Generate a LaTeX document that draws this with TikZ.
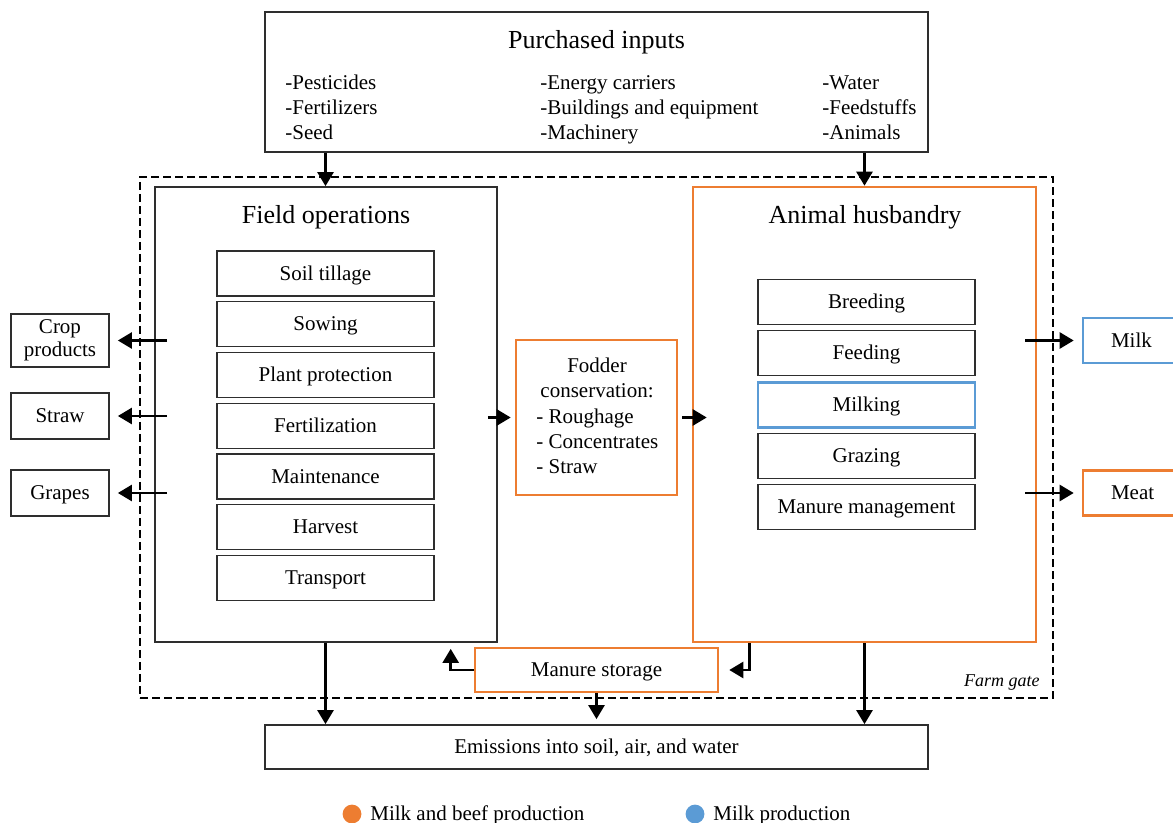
\documentclass[tikz,border=0pt]{standalone}
\usepackage{fontspec}
\setmainfont{Liberation Serif}
\usetikzlibrary{arrows.meta}
\definecolor{org}{HTML}{ED7D31}
\definecolor{blu}{HTML}{5B9BD5}
\definecolor{edge}{HTML}{2E2E2E}
\begin{document}
\begin{tikzpicture}[x=0.5pt,y=-0.5pt,
 bx/.style={draw=edge, line width=0.85pt, inner sep=0pt, font=\fontsize{10.5}{12.5}\selectfont},
 ob/.style={bx, draw=org, line width=1.3pt},
 bb/.style={bx, draw=blu, line width=1.3pt},
 ctr/.style={text height=8.2pt, text depth=1.4pt},
 sub/.style={bx, ctr, minimum width=108.5pt, minimum height=22.5pt},
 arr/.style={line width=1.25pt, -{Triangle[length=7pt,width=8pt]}},
 txt/.style={inner sep=0pt, font=\fontsize{10.5}{12.5}\selectfont, align=left},
 ttl/.style={inner sep=0pt, font=\fontsize{13}{15}\selectfont, text height=10pt, text depth=1pt}]
\useasboundingbox (0,0) rectangle (1173,823);
% purchased inputs
\node[bx, minimum width=331.5pt, minimum height=70pt] (pi) at (596.5,82) {};
\node[ttl] (pit) at (596.5,40) {Purchased inputs};
\node[txt, anchor=base west] (pc1) at (285,90) {\begin{tabular}[t]{@{}l@{}}-Pesticides\\-Fertilizers\\-Seed\end{tabular}};
\node[txt, anchor=base west] (pc2) at (540,90) {\begin{tabular}[t]{@{}l@{}}-Energy carriers\\-Buildings and equipment\\-Machinery\end{tabular}};
\node[txt, anchor=base west] (pc3) at (822,90) {\begin{tabular}[t]{@{}l@{}}-Water\\-Feedstuffs\\-Animals\end{tabular}};
% farm gate
\node[draw=black, line width=1.2pt, dash pattern=on 4pt off 2pt, minimum width=456.5pt, minimum height=260.5pt, inner sep=0pt] (fg) at (596.5,437.5) {};
\node[inner sep=0pt, anchor=east, font=\fontsize{9}{11}\selectfont\itshape] (fgt) at (1040,683) {Farm gate};
% field operations
\node[bx, minimum width=171pt, minimum height=227.5pt] (fo) at (326,414.5) {};
\node[ttl] (fot) at (326,215) {Field operations};
\node[sub] (st) at (325.5,273.5) {Soil tillage};
\node[sub] (sw) at (325.5,324) {Sowing};
\node[sub] (pp) at (325.5,375) {Plant protection};
\node[sub] (fe) at (325.5,426) {Fertilization};
\node[sub] (mt) at (325.5,476.5) {Maintenance};
\node[sub] (hv) at (325.5,527) {Harvest};
\node[sub] (tr) at (325.5,578) {Transport};
% animal husbandry
\node[ob, minimum width=171.5pt, minimum height=227.5pt] (ah) at (864.5,414.5) {};
\node[ttl] (aht) at (865,215) {Animal husbandry};
\node[sub] (br) at (866.5,302) {Breeding};
\node[sub] (fd) at (866.5,353) {Feeding};
\node[sub, bb] (mk) at (866.5,405) {Milking};
\node[sub] (gz) at (866.5,456) {Grazing};
\node[sub] (mm) at (866.5,507) {Manure management};
% fodder
\node[ob, minimum width=80.5pt, minimum height=77.5pt] (fod) at (596.5,417.5) {};
\node[txt, align=center] (fodt) at (597,378) {Fodder\\conservation:};
\node[txt, anchor=west] (fodl) at (536,441) {- Roughage\\- Concentrates\\- Straw};
% manure storage, emissions
\node[ob, ctr, minimum width=121.5pt, minimum height=22pt] (ms) at (596.5,670) {Manure storage};
\node[bx, ctr, minimum width=331.5pt, minimum height=22pt] (em) at (596.5,747) {Emissions into soil, air, and water};
% outputs
\node[bx, minimum width=49pt, minimum height=26.5pt, align=center, font=\fontsize{10.5}{11.5}\selectfont] (cp) at (60,340.5) {Crop\\products};
\node[bx, ctr, minimum width=49pt, minimum height=23pt] (sr) at (60,416) {Straw};
\node[bx, ctr, minimum width=49pt, minimum height=23pt] (gr) at (60,493) {Grapes};
\node[bb, ctr, minimum width=53pt, minimum height=22.5pt, text width=45pt, align=left] (mi) at (1136,340.5) {\hspace*{10pt}Milk};
\node[ob, ctr, minimum width=53pt, minimum height=22.5pt, text width=45pt, align=left] (me) at (1136,493) {\hspace*{10pt}Meat};
% arrows
\draw[arr] (st.north |- pi.south) -- (st.north |- fo.north);
\draw[arr] (ah.north |- pi.south) -- (ah.north);
\draw[arr, shorten >=4pt] ([xshift=6.5pt]fo.west |- cp.east) -- (cp.east);
\draw[arr, shorten >=4pt] ([xshift=6.5pt]fo.west |- sr.east) -- (sr.east);
\draw[arr, shorten >=4pt] ([xshift=6.5pt]fo.west |- gr.east) -- (gr.east);
\draw[arr, shorten >=4pt] ([xshift=-6pt]ah.east |- mi.west) -- (mi.west);
\draw[arr, shorten >=4pt] ([xshift=-6pt]ah.east |- me.west) -- (me.west);
\draw[arr, shorten >=2pt] ([xshift=-5pt]fo.east |- fod.west) -- (fod.west);
\draw[arr] ([xshift=2pt]fod.east) -- ([xshift=7.5pt]ah.west |- fod.east);
\draw[arr] (st.south |- fo.south) -- (st.south |- em.north);
\draw[arr] (ah.south) -- (ah.south |- em.north);
\draw[arr, shorten >=2.5pt] (ms.south) -- (ms.south |- em.north);
\draw[arr, shorten >=3pt] (ms.west) -| ([xshift=-11.5pt]ms.west |- fo.south);
\draw[arr, shorten >=5pt] ([xshift=29pt]ah.south west) |- (ms.east);
% legend
\fill[org] (352,814) circle[radius=4.7pt] node (lg1) {};
\node[txt, anchor=west] (lg1t) at (370,815) {Milk and beef production};
\fill[blu] (695,814) circle[radius=4.7pt] node (lg2) {};
\node[txt, anchor=west] (lg2t) at (713,815) {Milk production};
\end{tikzpicture}
\end{document}
